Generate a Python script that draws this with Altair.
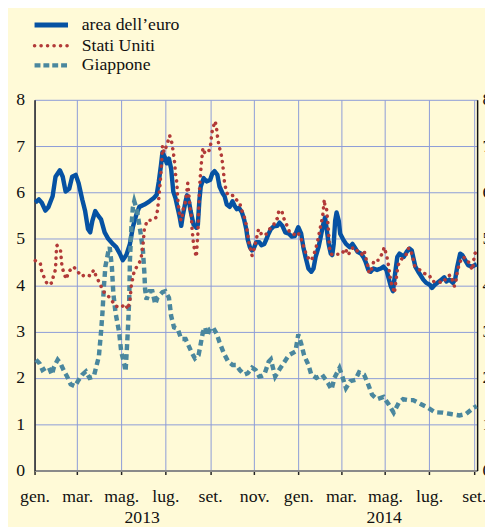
import altair as alt
import pandas as pd

START = "2013-01-01"

# ---- data (day offset from 1 Jan 2013, percent) ----
euro_day = [1, 6, 10, 15, 19, 25, 29, 35, 39, 43, 48, 52, 57, 61, 66, 70, 74, 77, 80, 84, 88, 92, 97, 102, 109, 113,
            118, 122, 127, 132, 136, 141, 145, 152, 159, 165, 169, 172, 175, 177, 180, 183, 186, 189, 192, 195, 198,
            201, 203, 205, 209, 211, 214, 216, 220, 224, 226, 228, 230, 234, 238, 243, 246, 249, 253, 256, 260, 263,
            266, 270, 274, 277, 280, 283, 287, 290, 293, 295, 298, 301, 304, 307, 311, 314, 318, 320, 323, 327, 331,
            336, 339, 343, 347, 352, 356, 360, 363, 365, 369, 372, 375, 379, 383, 386, 389, 393, 396, 399, 402, 404,
            407, 410, 412, 414, 416, 418, 421, 423, 427, 431, 436, 440, 443, 447, 452, 455, 458, 462, 465, 469, 474,
            479, 483, 487, 490, 493, 496, 499, 502, 505, 508, 511, 515, 519, 522, 524, 527, 531, 534, 538, 542, 547,
            550, 554, 558, 563, 567, 570, 574, 579, 582, 585, 589, 592, 596, 600, 605, 609, 612]
euro_val = [5.78, 5.85, 5.78, 5.61, 5.68, 5.92, 6.34, 6.48, 6.34, 6.02, 6.08, 6.34, 6.38, 6.2, 5.85, 5.6, 5.21, 5.14,
            5.39, 5.6, 5.5, 5.42, 5.14, 5.0, 4.88, 4.82, 4.68, 4.54, 4.65, 4.89, 5.25, 5.53, 5.69, 5.74, 5.81, 5.88,
            5.95, 6.24, 6.59, 6.87, 6.77, 6.63, 6.73, 6.52, 6.02, 5.88, 5.67, 5.46, 5.28, 5.49, 5.81, 5.94, 5.78, 5.6,
            5.31, 5.24, 5.31, 5.81, 6.13, 6.31, 6.24, 6.27, 6.41, 6.46, 6.38, 6.13, 5.99, 5.92, 5.74, 5.69, 5.81, 5.71,
            5.64, 5.67, 5.57, 5.42, 5.21, 4.99, 4.82, 4.75, 4.82, 4.93, 4.93, 4.86, 4.89, 4.96, 5.08, 5.21, 5.27, 5.28,
            5.35, 5.28, 5.14, 5.11, 5.05, 5.06, 5.18, 5.25, 5.11, 4.82, 4.61, 4.36, 4.29, 4.36, 4.61, 4.82, 5.04, 5.28,
            5.46, 5.25, 4.89, 4.68, 4.65, 4.89, 5.39, 5.57, 5.39, 5.11, 4.99, 4.89, 4.82, 4.89, 4.82, 4.72, 4.68, 4.61,
            4.51, 4.33, 4.29, 4.36, 4.33, 4.36, 4.4, 4.33, 4.15, 3.98, 3.87, 4.26, 4.61, 4.68, 4.65, 4.61, 4.72, 4.79,
            4.75, 4.61, 4.4, 4.29, 4.22, 4.12, 4.05, 4.01, 3.94, 4.01, 4.06, 4.12, 4.17, 4.08, 4.12, 4.05, 4.12, 4.4,
            4.68, 4.65, 4.54, 4.43, 4.4, 4.43, 4.45]

us_day = [1, 8, 10, 14, 18, 24, 26, 29, 30, 31, 36, 38, 41, 44, 47, 54, 60, 65, 71, 77, 82, 85, 90, 95, 100, 106, 112,
          119, 126, 129, 132, 134, 138, 142, 147, 150, 152, 156, 162, 168, 170, 172, 174, 176, 177, 179, 181, 185, 187,
          190, 192, 194, 195, 197, 198, 200, 202, 204, 205, 209, 211, 212, 214, 215, 217, 218, 220, 222, 224, 225, 226,
          227, 228, 229, 231, 233, 236, 239, 242, 244, 245, 247, 250, 252, 253, 255, 259, 261, 263, 266, 271, 275, 279,
          284, 286, 289, 292, 295, 297, 301, 304, 306, 310, 314, 319, 323, 327, 331, 333, 336, 338, 342, 345, 349, 353,
          356, 361, 364, 368, 371, 374, 378, 383, 387, 390, 393, 395, 397, 399, 401, 402, 404, 405, 407, 408, 410, 413,
          416, 425, 430, 434, 439, 443, 449, 453, 456, 461, 463, 466, 470, 476, 481, 484, 487, 489, 491, 493, 496, 498,
          500, 503, 507, 510, 514, 517, 520, 523, 526, 531, 538, 546, 551, 558, 565, 572, 576, 581, 583, 585, 588, 592,
          597, 601, 606, 609, 612]
us_val = [4.53, 4.47, 4.29, 4.14, 4.01, 4.05, 4.19, 4.34, 4.7, 4.86, 4.74, 4.4, 4.24, 4.13, 4.29, 4.4, 4.29, 4.19, 4.23,
          4.2, 4.33, 4.2, 4.05, 3.87, 3.8, 3.69, 3.55, 3.52, 3.59, 3.48, 3.66, 4.01, 4.31, 4.41, 4.54, 4.86, 5.21, 5.4,
          5.4, 5.46, 5.6, 5.88, 6.24, 6.66, 7.01, 6.87, 6.94, 7.12, 7.23, 7.07, 6.87, 6.63, 6.41, 6.2, 5.88, 5.6, 5.42,
          5.4, 5.6, 5.81, 6.06, 6.2, 5.88, 5.67, 5.49, 5.21, 4.89, 4.72, 4.61, 4.89, 5.1, 5.53, 5.95, 6.27, 6.66, 6.96,
          6.84, 6.89, 6.91, 7.06, 7.26, 7.4, 7.54, 7.37, 7.23, 7.03, 6.77, 6.52, 6.2, 5.99, 5.92, 5.94, 5.85, 5.78,
          5.64, 5.53, 5.39, 5.1, 4.89, 4.64, 4.79, 4.93, 5.21, 5.1, 5.07, 5.15, 5.25, 5.3, 5.4, 5.44, 5.6, 5.61, 5.44,
          5.3, 5.14, 5.11, 5.09, 5.14, 5.05, 4.89, 4.75, 4.6, 4.53, 4.68, 4.84, 5.04, 5.21, 5.35, 5.53, 5.85, 5.69,
          5.67, 5.5, 5.14, 4.82, 4.68, 4.65, 4.67, 4.67, 4.79, 4.65, 4.79, 4.82, 4.68, 4.67, 4.75, 4.43, 4.26, 4.33,
          4.54, 4.54, 4.68, 4.82, 4.65, 4.51, 4.3, 4.08, 3.94, 3.83, 4.08, 4.43, 4.54, 4.61, 4.65, 4.79, 4.79, 4.63,
          4.42, 4.36, 4.26, 4.22, 4.08, 4.08, 4.05, 4.2, 4.22, 3.98, 4.08, 4.29, 4.47, 4.61, 4.58, 4.49, 4.33, 4.68,
          4.72]

jp_day = [2, 7, 11, 16, 20, 24, 27, 32, 36, 41, 45, 50, 56, 60, 66, 71, 76, 82, 86, 89, 92, 94, 96, 98, 102, 104, 107,
          109, 112, 117, 120, 124, 126, 127, 129, 131, 132, 134, 136, 138, 142, 147, 150, 152, 153, 155, 159, 163, 167,
          170, 177, 181, 186, 189, 193, 198, 203, 209, 213, 218, 222, 227, 230, 233, 236, 239, 243, 247, 252, 256, 262,
          268, 274, 279, 284, 290, 295, 301, 306, 311, 314, 318, 324, 327, 333, 340, 346, 352, 361, 365, 369, 373, 379,
          383, 390, 398, 406, 411, 415, 422, 426, 431, 437, 444, 449, 456, 461, 467, 474, 483, 490, 497, 504, 510, 517,
          524, 535, 544, 554, 565, 576, 588, 597, 608, 612]
jp_val = [2.39, 2.31, 2.17, 2.22, 2.22, 2.07, 2.24, 2.39, 2.31, 2.14, 2.03, 1.86, 1.82, 1.93, 2.07, 2.14, 2.0, 2.03,
          2.28, 2.46, 2.99, 3.41, 3.98, 4.4, 4.72, 4.82, 4.4, 3.83, 3.41, 2.99, 2.56, 2.31, 2.14, 2.42, 2.99, 3.69,
          4.54, 5.25, 5.67, 5.81, 5.6, 5.1, 4.75, 4.26, 3.9, 3.69, 3.87, 3.87, 3.59, 3.73, 3.85, 3.87, 3.73, 3.34,
          3.09, 3.06, 2.84, 2.84, 2.7, 2.53, 2.42, 2.49, 2.74, 2.99, 3.09, 2.91, 3.06, 3.09, 2.95, 2.77, 2.53, 2.35,
          2.28, 2.28, 2.17, 2.07, 2.1, 2.22, 2.17, 2.03, 2.04, 2.07, 2.35, 2.4, 2.03, 2.21, 2.35, 2.49, 2.57, 2.94,
          2.74, 2.49, 2.28, 2.07, 2.0, 2.07, 1.89, 1.75, 2.0, 2.21, 2.03, 1.78, 1.93, 1.96, 2.12, 2.07, 1.89, 1.64,
          1.54, 1.59, 1.43, 1.25, 1.46, 1.54, 1.52, 1.52, 1.43, 1.36, 1.26, 1.25, 1.22, 1.19, 1.22, 1.36, 1.39]

series_names = ["area dell\u2019euro", "Stati Uniti", "Giappone"]
month_names = ["gen.", "feb.", "mar.", "apr.", "mag.", "giu.", "lug.", "ago.", "set.", "ott.", "nov.", "dic."]
tick_months = [(2013, 1), (2013, 3), (2013, 5), (2013, 7), (2013, 9), (2013, 11),
               (2014, 1), (2014, 3), (2014, 5), (2014, 7), (2014, 9)]
year_labels = ["2013", "2014"]
year_label_dates = ["2013-05-30T00:00:00Z", "2014-04-30T00:00:00Z"]
y_ticks = [0, 1, 2, 3, 4, 5, 6, 7, 8]

# ---- styling ----
BG = "#FFFAD7"
GRID = "#8C9BD7"
C_EURO = "#0652A3"
C_US = "#B23A38"
C_JP = "#4A879E"
FONT = "Liberation Serif"


def frame(days, vals):
    dates = pd.Timestamp(START) + pd.to_timedelta(days, unit="D")
    return pd.DataFrame({"date": dates.strftime("%Y-%m-%dT%H:%M:%SZ"), "value": vals})


euro_df = frame(euro_day, euro_val)
us_df = frame(us_day, us_val)
jp_df = frame(jp_day, jp_val)
year_df = pd.DataFrame({"date": year_label_dates, "label": year_labels})

x_scale = alt.Scale(type="utc", domain=[alt.DateTime(year=2013, month=1, date=1, utc=True),
                                        alt.DateTime(year=2014, month=9, date=5, hours=12, utc=True)])
x_axis = alt.Axis(
    values=[alt.DateTime(year=y, month=m, date=1, utc=True) for y, m in tick_months],
    labelExpr="[" + ",".join("'%s'" % n for n in month_names) + "][utcmonth(datum.value)]",
    grid=True, gridColor=GRID, gridWidth=1,
    tickSize=4, tickColor="#222222", tickWidth=1.5,
    domainColor="#8A8A8A", domainWidth=2,
    labelFont=FONT, labelFontSize=18, labelColor="#111111", labelPadding=13,
    labelOverlap=False, labelFlush=False, title=None,
)
x_enc = alt.X("date:T", scale=x_scale, axis=x_axis)
y_scale = alt.Scale(domain=[0, 8], nice=False, zero=True)

left_axis = alt.Axis(values=y_ticks, grid=True, gridColor=GRID, gridWidth=1, ticks=False,
                     domainColor="#222222", domainWidth=1.5, labelFont=FONT, labelFontSize=18,
                     labelColor="#111111", labelPadding=10, title=None)
right_axis = alt.Axis(orient="right", values=y_ticks, grid=False, ticks=False,
                      domainColor="#111111", domainWidth=1.5, labelFont=FONT, labelFontSize=18,
                      labelColor="#111111", labelPadding=5, title=None)

euro = alt.Chart(euro_df).mark_line(color=C_EURO, strokeWidth=4.5, strokeJoin="round").encode(
    x=x_enc, y=alt.Y("value:Q", scale=y_scale, axis=left_axis))
jp = alt.Chart(jp_df).mark_line(color=C_JP, strokeWidth=4.5, strokeDash=[6, 4]).encode(
    x=x_enc, y=alt.Y("value:Q", scale=y_scale, axis=None))
us = alt.Chart(us_df).mark_line(color=C_US, strokeWidth=3.6, strokeDash=[0.1, 6.5], strokeCap="round").encode(
    x=x_enc, y=alt.Y("value:Q", scale=y_scale, axis=None))
right = alt.Chart(euro_df).mark_line(opacity=0).encode(
    x=x_enc, y=alt.Y("value:Q", scale=y_scale, axis=right_axis))

years = alt.Chart(year_df).mark_text(font=FONT, fontSize=18, color="#111111", baseline="alphabetic").encode(
    x=x_enc, y=alt.value(430), text="label:N")

legend_styles = [
    dict(color=C_EURO, strokeWidth=5),
    dict(color=C_US, strokeWidth=3.6, strokeDash=[0.1, 6.5], strokeCap="round"),
    dict(color=C_JP, strokeWidth=4.5, strokeDash=[6, 3]),
]
legend_y = [-76, -55, -35]
legend_layers = []
for name, style, ly in zip(series_names, legend_styles, legend_y):
    ldf = pd.DataFrame({"label": [name]})
    legend_layers.append(alt.Chart(ldf).mark_rule(**style).encode(
        x=alt.value(0), x2=alt.value(34), y=alt.value(ly)))
    legend_layers.append(alt.Chart(ldf).mark_text(font=FONT, fontSize=18, color="#111111", align="left",
                                                  baseline="middle").encode(
        x=alt.value(48), y=alt.value(ly), text="label:N"))

chart = alt.layer(euro, jp, us, right, years, *legend_layers).resolve_scale(y="independent").properties(
    width=450, height=377,
    padding={"left": 27, "top": 89, "right": 8, "bottom": 53},
    autosize=alt.AutoSizeParams(type="none"),
    background=BG,
).configure_view(stroke=None)

chart.save("out.html", embed_options={"renderer": "svg", "actions": False})
